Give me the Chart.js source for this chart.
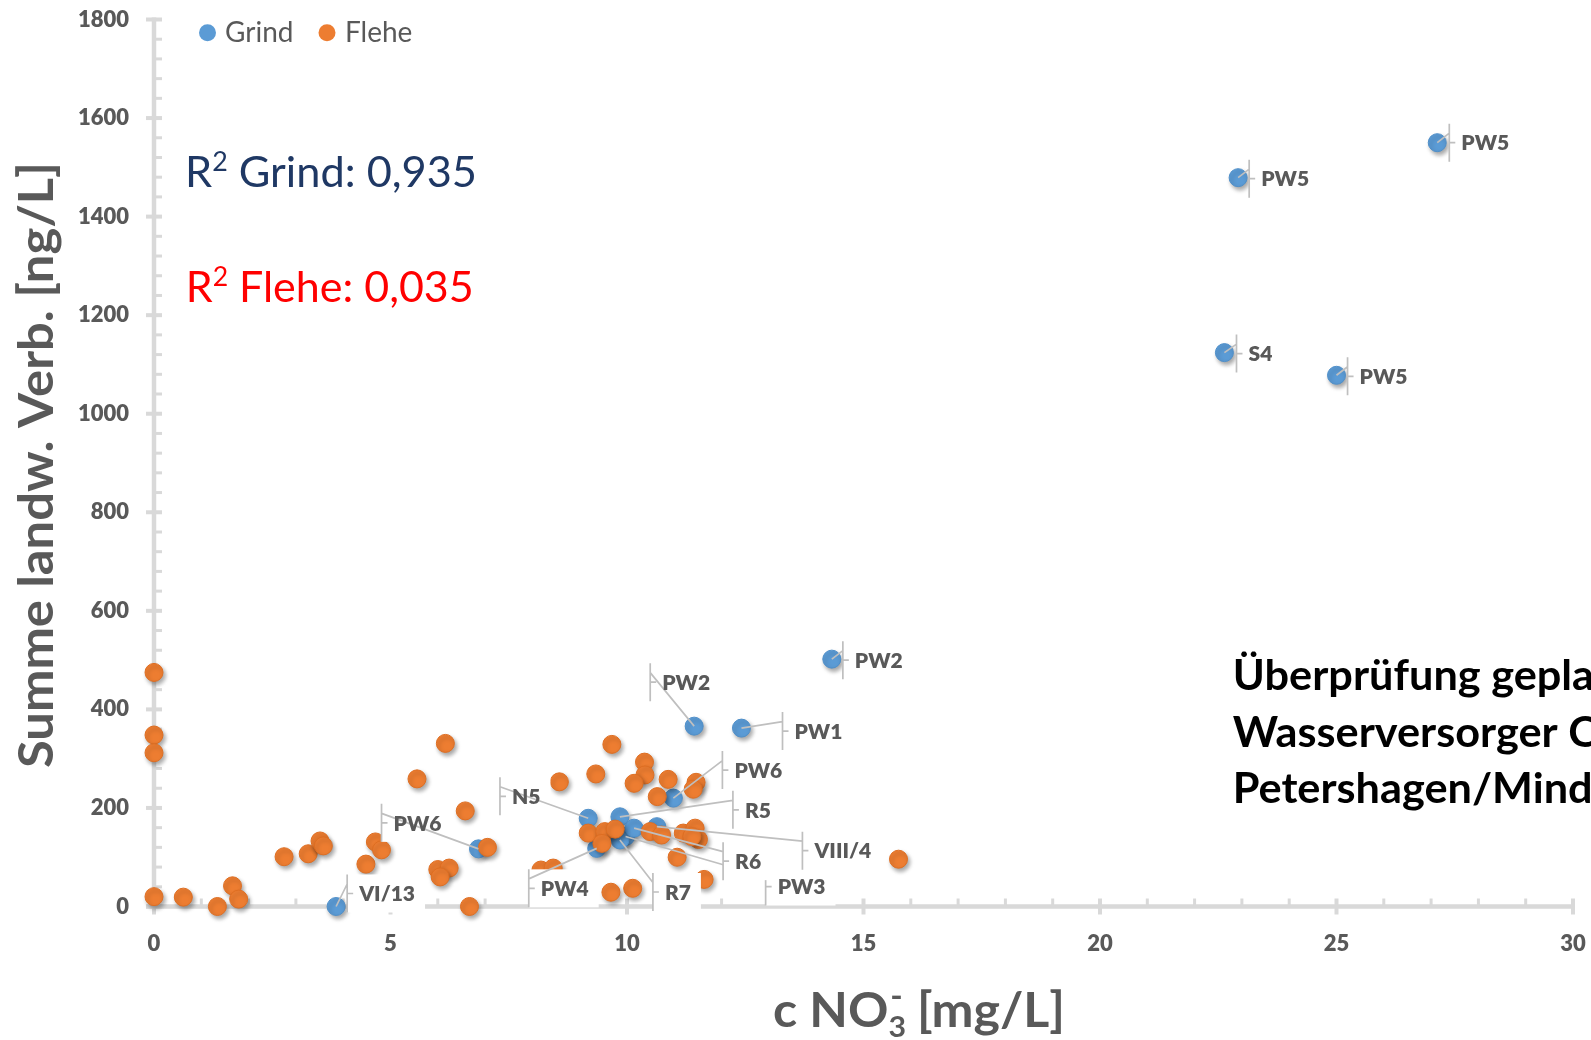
<!DOCTYPE html>
<html>
<head>
<meta charset="utf-8">
<script src="https://cdn.jsdelivr.net/npm/chart.js@4/dist/chart.umd.min.js"></script>
<style>
  html, body { margin: 0; padding: 0; background: #fff; overflow: hidden; }
  #wrap { position: relative; width: 1591px; height: 1040px; }
</style>
</head>
<body>
<div id="wrap"><canvas id="chart"></canvas></div>
<script>
// ---- Grind wells: nitrate [mg/L] vs. sum of agricultural compounds [ng/L]
const grindNames   = ['VI/13', 'PW6', 'N5', 'PW4', 'PW3', 'VIII/4', 'R7', 'R5', 'R6', 'PW6', 'PW2', 'PW1', 'PW2', 'PW5', 'PW5', 'S4', 'PW5'];
const grindNitrate = [3.85, 6.86, 9.18, 9.36, 9.97, 10.63, 9.85, 9.85, 10.15, 10.98, 11.42, 12.42, 14.33, 22.92, 27.13, 22.63, 25.0];
const grindSum     = [0, 117, 179, 118, 142, 162, 135, 182, 159, 220, 366, 362, 502, 1479, 1550, 1124, 1078];

// ---- Flehe wells
const fleheNitrate = [0, 0, 0, 0, 0.62, 1.34, 1.66, 1.79, 2.75, 3.26, 3.51, 3.58, 4.48, 4.68, 4.81, 5.56, 6.16, 6.58, 6.00, 6.24,
                      6.05, 6.67, 7.05, 9.68, 8.57, 9.34, 10.37, 10.38, 10.15, 10.87, 10.64, 11.46, 11.40, 15.74, 11.06, 11.63,
                      10.12, 9.66, 8.18, 8.44, 9.18, 9.53, 9.75, 9.47, 10.49, 10.73, 11.19, 11.44, 11.51, 11.37];
const fleheSum     = [475, 348, 312, 20, 19, 0, 42, 15, 101, 107, 133, 123, 86, 131, 115, 259, 331, 194, 75, 78,
                      60, 0, 120, 329, 253, 269, 293, 267, 250, 258, 223, 252, 238, 96, 100, 55,
                      37, 29, 74, 78, 149, 152, 157, 128, 152, 145, 149, 159, 136, 142];

// ---- axis ranges and tick labels
const xTickLabels = ['0', '5', '10', '15', '20', '25', '30'];
const yTickLabels = ['0', '200', '400', '600', '800', '1000', '1200', '1400', '1600', '1800'];

// ---- regression results
const seriesNames = ['Grind', 'Flehe'];
const r2Values    = ['0,935', '0,035'];

// ---- label placement (text centre relative to its marker, px)
const labelOffsets = [[51, -13], [-61, -26], [-62, -22], [-32, 40], [176, 50], [186, 24], [58, 52], [138, -7], [114, 33],
                      [85, -28], [-8, -44], [77, 3], [47, 1], [47, 1], [48, 0], [36, 1], [47, 1]];

const BLUE = '#5B9BD5', ORANGE = '#ED7D31', GREY = '#595959', AXIS = '#D9D9D9';
const FONT = 'Lato, "Open Sans", sans-serif';
const HEAVY = 800;

const xMax = Number(xTickLabels[xTickLabels.length - 1]);
const yMax = Number(yTickLabels[yTickLabels.length - 1]);
const xStep = Number(xTickLabels[1]) - Number(xTickLabels[0]);
const yStep = Number(yTickLabels[1]) - Number(yTickLabels[0]);

// Axis lines with crossing major ticks and inside minor ticks
const axesPlugin = {
  id: 'axesPlugin',
  beforeDatasetsDraw(chart) {
    const { ctx, scales: { x, y } } = chart;
    const left = x.left, bottom = y.bottom;
    ctx.save();
    ctx.strokeStyle = AXIS;
    ctx.lineCap = 'butt';
    ctx.lineWidth = 4.5;
    ctx.beginPath();
    ctx.moveTo(left, y.top - 2); ctx.lineTo(left, bottom + 2);
    ctx.moveTo(left - 8, bottom); ctx.lineTo(x.right + 2, bottom);
    ctx.stroke();
    // y ticks: major every step, 5 minor per step
    for (let i = 0; i <= (yMax / yStep) * 5; i++) {
      const v = i * yStep / 5, py = y.getPixelForValue(v), major = i % 5 === 0;
      ctx.lineWidth = major ? 4 : 3;
      ctx.beginPath();
      ctx.moveTo(major ? left - 8 : left, py); ctx.lineTo(left + 8, py);
      ctx.stroke();
    }
    // x ticks: major every step, minor every unit
    for (let v = 0; v <= xMax; v++) {
      const px = x.getPixelForValue(v), major = v % xStep === 0;
      ctx.lineWidth = major ? 4 : 3;
      ctx.beginPath();
      ctx.moveTo(px, bottom - 8); ctx.lineTo(px, major ? bottom + 8 : bottom);
      ctx.stroke();
    }
    ctx.restore();
  }
};

// Soft drop shadow under the markers
const shadowPlugin = {
  id: 'shadowPlugin',
  beforeDatasetDraw(chart) {
    const ctx = chart.ctx;
    ctx.save();
    ctx.shadowColor = 'rgba(0,0,0,0.35)';
    ctx.shadowBlur = 4;
    ctx.shadowOffsetX = 2;
    ctx.shadowOffsetY = 3;
  },
  afterDatasetDraw(chart) { chart.ctx.restore(); }
};

// Draws a run of text pieces (size, vertical shift) squeezed to a target width
function drawRuns(ctx, runs, x, baseline, targetWidth, weight) {
  let w = 0;
  runs.forEach(r => {
    ctx.font = `${weight} ${r.size}px ${FONT}`;
    r.w = ctx.measureText(r.text).width;
    w += r.w + (r.gap || 0);
  });
  const sx = targetWidth ? targetWidth / w : 1;
  ctx.save();
  ctx.translate(x, baseline);
  ctx.scale(sx, 1);
  let cx = 0;
  ctx.textBaseline = 'alphabetic';
  ctx.textAlign = 'left';
  runs.forEach(r => {
    ctx.font = `${weight} ${r.size}px ${FONT}`;
    ctx.fillText(r.text, cx, r.dy || 0);
    cx += r.w + (r.gap || 0);
  });
  ctx.restore();
}

// Data labels with leader lines, legend, R² notes, axis titles and the side note
const notesPlugin = {
  id: 'notesPlugin',
  afterDatasetsDraw(chart) {
    const { ctx, scales: { x, y } } = chart;
    ctx.save();
    grindNames.forEach((name, i) => {
      const px = x.getPixelForValue(grindNitrate[i]);
      const py = y.getPixelForValue(grindSum[i]);
      const [dx, dy] = labelOffsets[i];
      const cx = px + dx, cy = py + dy;
      ctx.font = `${HEAVY} 21px ${FONT}`;
      const tw = ctx.measureText(name).width;
      const bx = cx - tw / 2 - 12, bw = tw + 22, by = cy - 19, bh = 38;
      ctx.fillStyle = '#fff';
      ctx.fillRect(bx, by, bw, bh);
      ctx.strokeStyle = '#BFBFBF';
      ctx.lineWidth = 1.7;
      ctx.beginPath();
      ctx.moveTo(px, py); ctx.lineTo(bx, by + bh * 0.25);
      ctx.moveTo(bx, by); ctx.lineTo(bx, by + bh);
      ctx.moveTo(bx, cy); ctx.lineTo(bx + 6, cy);
      ctx.stroke();
      ctx.fillStyle = GREY;
      ctx.textAlign = 'center';
      ctx.textBaseline = 'middle';
      ctx.fillText(name, cx, cy + 1);
    });
    ctx.restore();
  },
  afterDraw(chart) {
    const ctx = chart.ctx;
    ctx.save();

    // legend
    const legendItems = [{ name: seriesNames[0], color: BLUE, mx: 207.5, tx: 225 },
                         { name: seriesNames[1], color: ORANGE, mx: 327, tx: 345 }];
    legendItems.forEach(it => {
      ctx.fillStyle = it.color;
      ctx.beginPath(); ctx.arc(it.mx, 32.7, 8.5, 0, Math.PI * 2); ctx.fill();
      ctx.fillStyle = GREY;
      ctx.font = `400 28px ${FONT}`;
      ctx.textAlign = 'left';
      ctx.textBaseline = 'alphabetic';
      ctx.fillText(it.name, it.tx, 42);
    });

    // R² notes
    ctx.fillStyle = '#1F3864';
    drawRuns(ctx, [{ text: 'R', size: 42 }, { text: '2', size: 26, dy: -16 }, { text: ' ' + seriesNames[0] + ': ' + r2Values[0], size: 42 }],
             185, 186.7, 292, 400);
    ctx.fillStyle = '#FF0000';
    drawRuns(ctx, [{ text: 'R', size: 42 }, { text: '2', size: 26, dy: -16 }, { text: ' ' + seriesNames[1] + ': ' + r2Values[1], size: 42 }],
             185.7, 301.7, 288, 400);

    // y-axis title
    ctx.fillStyle = GREY;
    ctx.save();
    ctx.translate(53, 465);
    ctx.rotate(-Math.PI / 2);
    ctx.font = `bold 48px ${FONT}`;
    const yt = 'Summe landw. Verb. [ng/L]';
    const yw = ctx.measureText(yt).width;
    ctx.scale(606 / yw, 1);
    ctx.textAlign = 'center';
    ctx.textBaseline = 'alphabetic';
    ctx.fillText(yt, 0, 0);
    ctx.restore();

    // x-axis title
    drawRuns(ctx, [{ text: 'c NO', size: 48 }, { text: '3', size: 29, dy: 10, gap: -15 }, { text: '-', size: 32, dy: -20, gap: 2 },
                   { text: ' [mg/L]', size: 48 }], 773, 1027, 292, 'bold');

    // side note
    ctx.fillStyle = '#000';
    ctx.font = `bold 42px ${FONT}`;
    const sx = 325 / ctx.measureText('Wasserversorger').width;
    ['Überprüfung geplanter', 'Wasserversorger C', 'Petershagen/Minden'].forEach((line, i) => {
      ctx.save();
      ctx.translate(1232.7, 690 + i * 56.7);
      ctx.scale(sx, 1);
      ctx.textAlign = 'left';
      ctx.textBaseline = 'alphabetic';
      ctx.fillText(line, 0, 0);
      ctx.restore();
    });
    ctx.restore();
  }
};

function build() {
  new Chart(document.getElementById('chart'), {
    type: 'scatter',
    data: {
      datasets: [
        {
          label: seriesNames[0],
          data: grindNitrate.map((v, i) => ({ x: v, y: grindSum[i] })),
          backgroundColor: BLUE,
          borderColor: '#4F8FC9',
          borderWidth: 1,
          pointRadius: 9,
          pointHoverRadius: 9,
          order: 2,
          clip: false
        },
        {
          label: seriesNames[1],
          data: fleheNitrate.map((v, i) => ({ x: v, y: fleheSum[i] })),
          backgroundColor: ORANGE,
          borderColor: '#DE6E22',
          borderWidth: 1,
          pointRadius: 9,
          pointHoverRadius: 9,
          order: 1,
          clip: false
        }
      ]
    },
    options: {
      responsive: true,
      maintainAspectRatio: false,
      animation: false,
      events: [],
      layout: { padding: { top: 19.5, right: 18, left: 0, bottom: 0 } },
      plugins: { legend: { display: false }, tooltip: { enabled: false } },
      scales: {
        x: {
          type: 'linear',
          min: 0, max: xMax,
          grid: { display: false, drawTicks: false },
          border: { display: false },
          ticks: {
            stepSize: xStep,
            padding: 24,
            color: GREY,
            font: { family: FONT, size: 22, weight: HEAVY },
            callback: (v) => xTickLabels[Math.round(v / xStep)] ?? ''
          },
          afterFit(s) { s.height = 133.5; s.paddingLeft = 0; s.paddingRight = 0; }
        },
        y: {
          type: 'linear',
          min: 0, max: yMax,
          grid: { display: false, drawTicks: false },
          border: { display: false },
          ticks: {
            stepSize: yStep,
            padding: 25,
            color: GREY,
            font: { family: FONT, size: 22, weight: HEAVY },
            callback: (v) => yTickLabels[Math.round(v / yStep)] ?? ''
          },
          afterFit(s) { s.width = 154; s.paddingTop = 0; s.paddingBottom = 0; }
        }
      }
    },
    plugins: [axesPlugin, shadowPlugin, notesPlugin]
  });
}

Promise.all([
  document.fonts.load(`${HEAVY} 22px ${FONT}`),
  document.fonts.load(`bold 22px ${FONT}`),
  document.fonts.load(`400 22px ${FONT}`)
]).catch(() => {}).then(build);
</script>
</body>
</html>
